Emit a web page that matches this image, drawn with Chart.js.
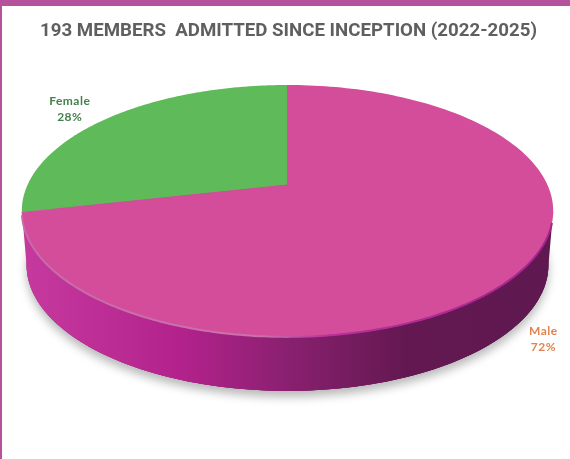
<!DOCTYPE html>
<html>
<head>
<meta charset="utf-8">
<style>
  html, body { margin: 0; padding: 0; background: #fff; }
  #frame { position: absolute; left: 0; top: 0; width: 568px; height: 453px; border-top: 6px solid #b5529b; border-left: 2px solid #b5529b; }
  #wrap { position: absolute; left: 0; top: 0; width: 570px; height: 459px; }
</style>
<script src="https://cdn.jsdelivr.net/npm/chart.js@4"></script>
</head>
<body>
<div id="frame"></div>
<div id="wrap"><canvas id="pie" width="570" height="459"></canvas></div>
<script>
const titleText = "193 MEMBERS  ADMITTED SINCE INCEPTION (2022-2025)";
const categories = ["Male", "Female"];
const members = [138, 55];
const sliceColors = ["#d34d9a", "#5fba5a"];
const labelColors = ["#e0834d", "#44814c"];

// tilted disc: apex is not the middle of the ellipse, Excel draws it in perspective
const APEX_X = 287.5, APEX_Y = 185, WIDE = 260, TALL = 120.6, PERSP = 0.206;
const DEPTH = 54, BASE_SCALE = 0.982;
const LABEL_SHIFT = [[23, 67.5], [-38, -9]];

function project(angle, rho) {
  const u = rho * Math.cos(angle);
  const v = -rho * Math.sin(angle);
  const w = 1 + PERSP * v;
  return [APEX_X + WIDE * u / w, APEX_Y - TALL * v / w];
}

function toBase(p) {
  return [APEX_X + (p[0] - APEX_X) * BASE_SCALE, p[1] + DEPTH];
}

function rimPath(ctx, from, to, base, move) {
  const steps = 180;
  for (let i = 0; i <= steps; i++) {
    const a = from + (to - from) * i / steps;
    const p = base ? toBase(project(a, 1)) : project(a, 1);
    if (i === 0 && move) ctx.moveTo(p[0], p[1]);
    else ctx.lineTo(p[0], p[1]);
  }
}

const discPlugin = {
  id: "disc",
  beforeDatasetDraw(chart, args) {
    const ctx = chart.ctx;
    const a0 = Math.asin(PERSP);
    const wall = ctx.createLinearGradient(21, 0, 553, 0);
    wall.addColorStop(0, "#c63a9f");
    wall.addColorStop(0.3, "#b3228c");
    wall.addColorStop(0.5, "#8a2070");
    wall.addColorStop(0.72, "#641851");
    wall.addColorStop(1, "#5f1850");

    // shadow under the base
    ctx.save();
    ctx.shadowColor = "rgba(0,0,0,0.28)";
    ctx.shadowBlur = 10;
    ctx.shadowOffsetY = 6;
    ctx.fillStyle = "#641851";
    ctx.beginPath();
    rimPath(ctx, 0, Math.PI * 2, true, true);
    ctx.closePath();
    ctx.fill();
    ctx.restore();

    // wall
    ctx.fillStyle = wall;
    ctx.beginPath();
    rimPath(ctx, 0, Math.PI * 2, true, true);
    ctx.closePath();
    ctx.fill();
    ctx.beginPath();
    rimPath(ctx, a0, Math.PI - a0, false, true);
    rimPath(ctx, Math.PI - a0, a0, true, false);
    ctx.closePath();
    ctx.fill();

    // top slices, angles come from the arc elements
    const arcs = chart.getDatasetMeta(args.index).data;
    arcs.forEach((arc, i) => {
      ctx.fillStyle = sliceColors[i];
      ctx.beginPath();
      ctx.moveTo(APEX_X, APEX_Y);
      rimPath(ctx, arc.startAngle, arc.endAngle, false, false);
      ctx.closePath();
      ctx.fill();
    });

    // close the hairline seam between the two slices
    ctx.strokeStyle = sliceColors[0];
    ctx.lineWidth = 1;
    ctx.beginPath();
    const seamA = project(arcs[0].startAngle, 1);
    const seamB = project(arcs[0].endAngle, 1);
    ctx.moveTo(seamA[0], seamA[1]);
    ctx.lineTo(APEX_X, APEX_Y);
    ctx.lineTo(seamB[0], seamB[1]);
    ctx.stroke();

    // soft rim along the near edge, only on the male slice
    const rim = ctx.createLinearGradient(21, 0, 553, 0);
    rim.addColorStop(0, "#c66aa8");
    rim.addColorStop(0.45, "#cb72ae");
    rim.addColorStop(0.58, "#b8309a");
    rim.addColorStop(1, "#a3228c");
    ctx.strokeStyle = rim;
    ctx.lineWidth = 2;
    ctx.beginPath();
    rimPath(ctx, 0.3, arcs[0].endAngle - 0.02, false, true);
    ctx.stroke();

    // labels
    const total = members.reduce((a, b) => a + b, 0);
    ctx.font = "bold 12px Lato";
    ctx.letterSpacing = "0.5px";
    ctx.textAlign = "center";
    ctx.textBaseline = "middle";
    arcs.forEach((arc, i) => {
      const mid = (arc.startAngle + arc.endAngle) / 2;
      const p = project(mid, 1);
      const x = p[0] + LABEL_SHIFT[i][0];
      const y = p[1] + LABEL_SHIFT[i][1];
      ctx.fillStyle = labelColors[i];
      ctx.fillText(categories[i], x, y - 8);
      ctx.fillText(Math.round(members[i] / total * 100) + "%", x, y + 8);
    });
    ctx.letterSpacing = "0px";
    return false;
  }
};

new Chart(document.getElementById("pie"), {
  type: "pie",
  data: {
    labels: categories,
    datasets: [{ data: members, backgroundColor: sliceColors, borderWidth: 0 }]
  },
  plugins: [discPlugin],
  options: {
    responsive: false,
    animation: false,
    layout: { padding: { left: 7 } },
    plugins: {
      legend: { display: false },
      tooltip: { enabled: false },
      title: {
        display: true,
        text: titleText,
        color: "#5f5f5f",
        font: { family: "Roboto", size: 18.7, weight: "bold" },
        padding: { top: 20, bottom: 10 }
      }
    }
  }
});
</script>
</body>
</html>
